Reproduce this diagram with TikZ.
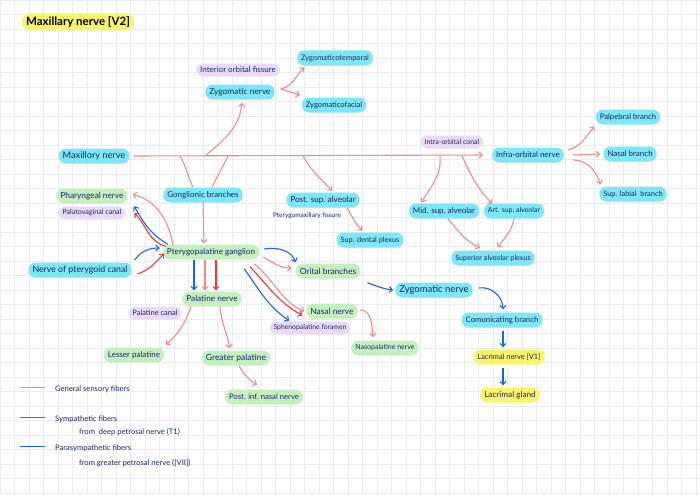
\documentclass[tikz,border=0pt]{standalone}
\usepackage{fontspec}
\setmainfont{Lato}
\usetikzlibrary{arrows.meta}
\definecolor{cy}{HTML}{7EE6F4}
\definecolor{gr}{HTML}{C4F0BE}
\definecolor{lv}{HTML}{EADAF7}
\definecolor{yl}{HTML}{FBF46A}
\definecolor{ink}{HTML}{16266E}
\definecolor{pk}{HTML}{F28B88}
\definecolor{rd}{HTML}{E53A3A}
\definecolor{bl}{HTML}{1A66DB}
\definecolor{gridc}{HTML}{ECECF0}
\newcommand{\fs}[1]{\fontsize{#1}{#1}\selectfont}
\tikzset{
  pill/.style={rounded corners=7pt, inner xsep=4pt, inner ysep=0pt, minimum height=15pt, text=ink, font=\fs{7.5}},
  cbox/.style={pill, fill=cy},
  gbox/.style={pill, fill=gr},
  lbox/.style={pill, fill=lv, minimum height=13pt, font=\fs{6.5}},
  ybox/.style={pill, fill=yl},
  plain/.style={text=ink, inner sep=1pt},
  arr/.style={line width=1.1pt, -{Straight Barb[length=3.2pt,width=6pt]}, shorten >=1pt},
  sens/.style={arr, draw=pk},
  symp/.style={arr, draw=rd},
  para/.style={arr, draw=bl},
}
\begin{document}
\begin{tikzpicture}[x=1pt,y=1pt]
\useasboundingbox (0,0) rectangle (700,-495);
\fill[white] (0,0) rectangle (700,-495);
\foreach \i in {0,...,48} {\draw[gridc, line width=0.5pt] (\i*14.5,0) -- (\i*14.5,-495);}
\foreach \j in {0,...,34} {\draw[gridc, line width=0.5pt] (0,-\j*14.5) -- (700,-\j*14.5);}

% title
\node[ybox, text=black, font=\fs{11.5}\bfseries, minimum height=17pt, rounded corners=8pt] (title) at (78,-22) {Maxillary nerve [V2]};

% nodes
\node[lbox, font=\fs{8}] (iof) at (238,-70) {Interior orbital fissure};
\node[cbox, font=\fs{8.4}] (zyg) at (240,-92) {Zygomatic nerve};
\node[cbox, font=\fs{7.5}] (zt) at (335,-58) {Zygomaticotemporal};
\node[cbox, font=\fs{7.6}] (zf) at (334,-105) {Zygomaticofacial};
\node[cbox, font=\fs{9.2}] (max) at (94,-156) {Maxillory nerve};
\node[lbox, font=\fs{7}] (ioc) at (452,-142) {Intra-orbital conal};
\node[cbox, font=\fs{8}] (ion) at (528,-155) {Infra-orbital nerve};
\node[cbox, font=\fs{7.7}] (palp) at (628,-117) {Palpebral branch};
\node[cbox, font=\fs{8}] (nasb) at (630,-154) {Nasal branch};
\node[cbox, font=\fs{7.4}] (labb) at (633,-194) {Sup. labial\ \ branch};
\node[cbox, font=\fs{8}] (gang) at (203,-195) {Gonglionic branches};
\node[cbox, font=\fs{8.2}] (psa) at (323,-200) {Post. sup.\ alveolar};
\node[plain, font=\fs{6.5}] (ptf) at (307,-216) {Pterygomaxillary fissure};
\node[cbox, font=\fs{7.3}] (sdp) at (370,-240) {Sup. dental plexus};
\node[cbox, font=\fs{8}] (msa) at (444,-211) {Mid. sup.\ alveolar};
\node[cbox, font=\fs{7}] (asa) at (514,-211) {Art. sup.\ alveolar};
\node[cbox, font=\fs{7.2}] (sap) at (493,-258) {Superior alveolar plexus};
\node[gbox, font=\fs{8.3}] (phn) at (92,-196) {Pharyngeal nerve};
\node[lbox, font=\fs{7.1}] (pvc) at (92,-213) {Palatovaginal canal};
\node[gbox, font=\fs{8.1}] (ppg) at (211,-252) {Pterygopalatine ganglion};
\node[cbox, font=\fs{8.8}] (npc) at (80,-270) {Nerve of pterygoid canal};
\node[gbox, font=\fs{8.2}] (paln) at (212,-299) {Palatine nerve};
\node[lbox, font=\fs{7.5}] (palc) at (155,-313) {Palatine canal};
\node[gbox, font=\fs{8}] (lesp) at (134,-355) {Lesser palatine};
\node[gbox, font=\fs{8.5}] (grp) at (236,-358) {Greater palatine};
\node[gbox, font=\fs{7.7}] (pinn) at (264,-397) {Post. inf.\ nasal nerve};
\node[gbox, font=\fs{8.4}] (orb) at (328,-271) {Orital branches};
\node[cbox, font=\fs{9.5}] (zyg2) at (434,-290) {Zygomatic nerve};
\node[cbox, font=\fs{7.8}] (comb) at (502,-320) {Comunicating branch};
\node[ybox, font=\fs{7.4}] (lacn) at (509,-357) {Lacrimal nerve [V1]};
\node[ybox, font=\fs{8.2}] (lacg) at (510,-395) {Lacrimal gland};
\node[gbox, font=\fs{8.4}] (nasn) at (332,-311) {Nasal nerve};
\node[lbox, font=\fs{6.8}] (spf) at (310,-328) {Sphenopalatine foramen};
\node[gbox, font=\fs{7}] (npn) at (385,-348) {Nasopalatine nerve};

% main trunk
\coordinate (b1) at (180,-156);
\coordinate (bz) at (205,-156);
\coordinate (b2) at (228,-156);
\coordinate (bp) at (303,-156);
\coordinate (bm) at (440,-156);
\coordinate (ba) at (462,-156);
\draw[sens, shorten <=4pt, shorten >=9pt] (max.east) -- (ion.west);
\draw[pk, line width=1.1pt] (b1) to[out=-60,in=115] ([xshift=-10pt]gang.north);
\draw[pk, line width=1.1pt] (b2) to[out=-115,in=65] ([xshift=9pt]gang.north);
\draw[sens] (bz) to[out=40,in=-95] ([xshift=2pt,yshift=-2pt]zyg.south);
\draw[sens] (bp) to[out=-60,in=135] ([xshift=10pt,yshift=1pt]psa.north);
\draw[sens] (bm) to[out=-85,in=60] ([xshift=-23pt,yshift=0pt]msa.north);
\draw[sens] (ba) to[out=-65,in=135] ([xshift=-21pt,yshift=-1pt]asa.north);

% zygomatic branches
\draw[sens] ([xshift=6pt,yshift=3pt]zyg.east) to[out=15,in=225] ([xshift=-30pt,yshift=-1pt]zt.south);
\draw[sens] ([xshift=6pt,yshift=3pt]zyg.east) to[out=-15,in=165] ([xshift=-33pt,yshift=2pt]zf.north);

% infra-orbital branches
\draw[sens] ([xshift=4pt,yshift=5pt]ion.east) to[out=15,in=230] ([xshift=-33pt,yshift=-1pt]palp.south);
\draw[sens] ([xshift=9pt]ion.east) -- ([xshift=-2pt]nasb.west);
\draw[sens] ([xshift=9pt,yshift=-5pt]ion.east) to[out=0,in=110] ([xshift=-32pt,yshift=1pt]labb.north);

% alveolar
\draw[sens] ([xshift=24pt]psa.south) to[out=-60,in=135] ([xshift=-7pt,yshift=1pt]sdp.north);
\draw[sens] ([xshift=4pt]msa.south) to[out=-50,in=155] ([xshift=-12pt,yshift=2pt]sap.north);
\draw[sens] (asa.south) to[out=-100,in=55] ([xshift=4pt,yshift=2pt]sap.north);

% ganglion
\draw[sens] (gang.south) -- ([xshift=-7pt]ppg.north);
\draw[sens] ([xshift=-38pt,yshift=-1pt]ppg.north) to[out=100,in=-15] ([xshift=4pt,yshift=2pt]phn.east);
\draw[para] ([xshift=-43pt]ppg.north) to[out=150,in=-60] ([xshift=8pt,yshift=1pt]pvc.north east);
\draw[symp] ([xshift=-45pt,yshift=-2pt]ppg.north) to[out=165,in=-45] ([xshift=8pt,yshift=-6pt]pvc.north east);
\draw[para] ([xshift=3pt,yshift=10pt]npc.east) to[out=55,in=180] ([xshift=-2pt,yshift=4pt]ppg.west);
\draw[symp] ([xshift=6pt,yshift=-4pt]npc.east) to[out=20,in=-135] ([xshift=2pt,yshift=-1pt]ppg.west);

% palatine
\draw[para] ([xshift=-17pt]ppg.south) -- ([xshift=-18pt]paln.north);
\draw[sens] ([xshift=-6pt]ppg.south) -- ([xshift=-7pt]paln.north);
\draw[symp] ([xshift=5pt]ppg.south) -- ([xshift=4pt]paln.north);
\draw[sens] ([xshift=-21pt]paln.south) to[out=-110,in=40] ([xshift=31pt,yshift=2pt]lesp.north);
\draw[sens] ([xshift=8pt]paln.south) to[out=-85,in=100] ([xshift=-6pt,yshift=1pt]grp.north);
\draw[sens] ([xshift=3pt]grp.south) to[out=-60,in=150] ([xshift=-6pt,yshift=4pt]pinn.north);

% orbital, nasal
\draw[para] ([xshift=5pt,yshift=3pt]ppg.east) to[out=10,in=110] ([xshift=-32pt,yshift=0pt]orb.north);
\draw[sens] ([xshift=4pt,yshift=-5pt]ppg.east) to[out=-30,in=180] ([xshift=-3pt,yshift=3pt]orb.west);
\draw[sens] ([xshift=-5pt,yshift=-4pt]ppg.south east) to[out=-40,in=155] ([xshift=-1pt,yshift=-1pt]nasn.west);
\draw[symp] ([xshift=-9pt,yshift=-7pt]ppg.south east) to[out=-48,in=150] ([xshift=-3pt,yshift=-5pt]nasn.west);
\draw[para] ([xshift=-15pt,yshift=-9pt]ppg.south east) to[out=-55,in=145] ([xshift=-20pt,yshift=0pt]spf.north);
\draw[sens] ([xshift=2pt,yshift=1pt]nasn.east) to[out=0,in=95] ([xshift=-12pt,yshift=2pt]npn.north);

% parasympathetic path to lacrimal gland
\draw[para] ([xshift=7pt,yshift=-4pt]orb.south east) to[out=-20,in=175] ([xshift=-1pt]zyg2.west);
\draw[para] ([xshift=6pt,yshift=2pt]zyg2.east) to[out=10,in=90] ([xshift=1pt,yshift=2pt]comb.north);
\draw[para] ([xshift=1pt,yshift=-3pt]comb.south) -- ([xshift=-6pt,yshift=1pt]lacn.north);
\draw[para] ([xshift=-6pt,yshift=-3pt]lacn.south) -- ([xshift=-7pt,yshift=1pt]lacg.north);

% legend swatches
\fill[pk] (20,-386.8) rectangle (45,-388.2);
\fill[rd] (20,-416.8) rectangle (45,-418.2);
\fill[bl] (20,-445.8) rectangle (45,-447.2);
\node[plain, anchor=west, font=\fs{7.6}] (t1) at (54,-389) {General sensory fibers};
\node[plain, anchor=west, font=\fs{7.6}] (t2) at (54,-419) {Sympathetic fibers};
\node[plain, anchor=west, font=\fs{7.6}] (t2b) at (78,-432) {from\ \ deep petrosal nerve (T1)};
\node[plain, anchor=west, font=\fs{7.6}] (t3) at (54,-448) {Parasympathetic fibers};
\node[plain, anchor=west, font=\fs{7.6}] (t3b) at (78,-463) {from greater petrosal nerve ([VII])};
\end{tikzpicture}
\end{document}
